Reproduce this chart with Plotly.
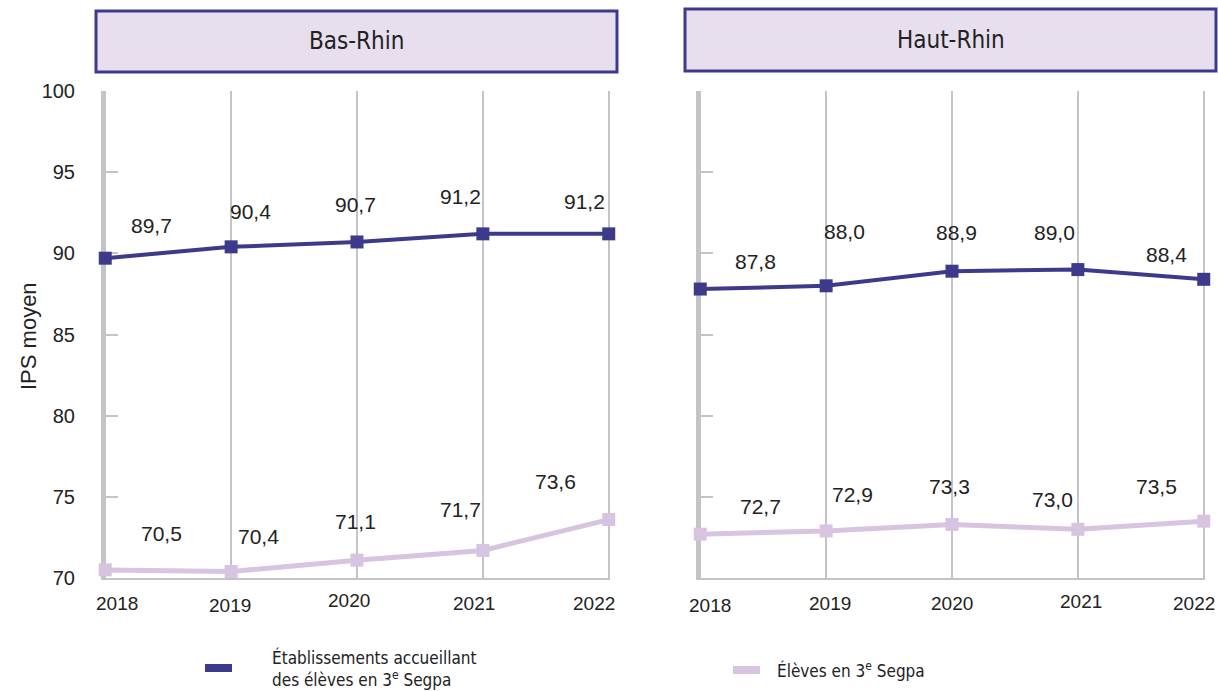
import plotly.graph_objects as go

# données IPS moyen
annees = [2018, 2019, 2020, 2021, 2022]
bas_rhin_etab = [89.7, 90.4, 90.7, 91.2, 91.2]
bas_rhin_eleves = [70.5, 70.4, 71.1, 71.7, 73.6]
haut_rhin_etab = [87.8, 88.0, 88.9, 89.0, 88.4]
haut_rhin_eleves = [72.7, 72.9, 73.3, 73.0, 73.5]
y_ticks = [70, 75, 80, 85, 90, 95, 100]

nom_etab = "Établissements accueillant<br>des élèves en 3<sup>e</sup> Segpa"
nom_eleves = "Élèves en 3<sup>e</sup> Segpa"

# décalages des étiquettes (px) : (dx, dy vers le haut)
off_br_etab = [(46, 33), (19, 35), (-2, 37), (-22, 37), (-24, 32)]
off_br_eleves = [(56, 36), (27, 35), (-2, 39), (-22, 41), (-53, 38)]
off_hr_etab = [(55, 28), (18, 54), (4, 39), (-23, 37), (-37, 25)]
off_hr_eleves = [(60, 28), (26, 36), (-3, 38), (-25, 30), (-47, 35)]
# décalages des années sous l'axe
off_br_annees = [(12, -25), (-1, -27), (-8, -22), (-9, -25), (-15, -25)]
off_hr_annees = [(10, -27), (4, -25), (0, -25), (3, -23), (-10, -25)]

C_DARK = '#3d3a8c'
C_LIGHT = '#d6c4e0'
C_GRID = '#c3c3c8'
C_TEXT = '#222222'
FONT = 'Liberation Sans, Arial, sans-serif'
FONT_NARROW = 'Liberation Sans Narrow, DejaVu Sans Condensed, Roboto, sans-serif'

W, H = 1218, 691
def px(x): return x / W
def py(y): return 1 - y / H

fig = go.Figure()

panels = [
    ('x', 'y', bas_rhin_etab, bas_rhin_eleves, off_br_etab, off_br_eleves, off_br_annees),
    ('x2', 'y2', haut_rhin_etab, haut_rhin_eleves, off_hr_etab, off_hr_eleves, off_hr_annees),
]

annotations = []
for xa, ya, etab, eleves, off_e, off_l, off_a in panels:
    for vals, col, lw, offs in [(eleves, C_LIGHT, 5, off_l), (etab, C_DARK, 4, off_e)]:
        fig.add_trace(go.Scatter(x=annees, y=vals, xaxis=xa, yaxis=ya,
                                 mode='lines+markers',
                                 line=dict(color=col, width=lw),
                                 marker=dict(symbol='square', size=13, color=col),
                                 cliponaxis=False, showlegend=False, hoverinfo='skip'))
        for a, v, (dx, dy) in zip(annees, vals, offs):
            annotations.append(dict(x=a, y=v, xref=xa, yref=ya, showarrow=False,
                                    text=f"{v:.1f}".replace('.', ','),
                                    xshift=dx, yshift=dy,
                                    font=dict(size=21, color=C_TEXT, family=FONT)))
    # années (étiquettes de l'axe x)
    for a, (dx, dy) in zip(annees, off_a):
        annotations.append(dict(x=a, y=70, xref=xa, yref=ya, showarrow=False,
                                text=str(a), xshift=dx, yshift=dy,
                                font=dict(size=19, color=C_TEXT, family=FONT)))

axis_x = dict(range=[2017.99, 2022.01], tickvals=annees, showgrid=True, gridcolor=C_GRID,
              gridwidth=2, showline=True, linecolor=C_GRID, linewidth=2, ticks='',
              showticklabels=False, layer='below traces',
              zeroline=False, fixedrange=True, automargin=False)
axis_y = dict(range=[70, 100], tickvals=y_ticks, showgrid=False, showline=True,
              linecolor=C_GRID, linewidth=3, ticks='inside', ticklen=14, tickwidth=2,
              tickcolor=C_GRID, zeroline=False, fixedrange=True, automargin=False,
              layer='below traces', tickfont=dict(size=20, color=C_TEXT, family=FONT))

fig.update_layout(
    width=W, height=H, margin=dict(l=0, r=0, t=0, b=0),
    plot_bgcolor='white', paper_bgcolor='white',
    xaxis=dict(axis_x, domain=[px(104), px(610)], anchor='y'),
    yaxis=dict(axis_y, domain=[py(578), py(91)], anchor='x', ticklabelstandoff=22),
    xaxis2=dict(axis_x, domain=[px(699), px(1205)], anchor='y2'),
    yaxis2=dict(axis_y, domain=[py(578), py(91)], anchor='x2', showticklabels=False),
)

# bandeaux de titre
shapes = []
for x0, x1, y0, y1, titre in [(96, 617, 11, 72, 'Bas-Rhin'), (685, 1216, 9, 71, 'Haut-Rhin')]:
    shapes.append(dict(type='rect', xref='paper', yref='paper',
                       x0=px(x0), x1=px(x1), y0=py(y1), y1=py(y0),
                       fillcolor='#e8dfee', line=dict(color=C_DARK, width=3)))
    annotations.append(dict(x=px((x0 + x1) / 2), y=py((y0 + y1) / 2), xref='paper', yref='paper',
                            text=titre, showarrow=False, xanchor='center', yanchor='middle',
                            font=dict(size=24, color=C_TEXT, family=FONT_NARROW)))

# titre axe y
annotations.append(dict(x=px(28), y=py(336), xref='paper', yref='paper', text='IPS moyen',
                        textangle=-90, showarrow=False, xanchor='center', yanchor='middle',
                        font=dict(size=22, color=C_TEXT, family=FONT)))

# légende
for x0, x1, ym, col, txt, tx in [(205, 232, 668, C_DARK, nom_etab, 270),
                                 (733, 760, 670, C_LIGHT, nom_eleves, 775)]:
    shapes.append(dict(type='rect', xref='paper', yref='paper',
                       x0=px(x0), x1=px(x1), y0=py(ym + 4), y1=py(ym - 4),
                       fillcolor=col, line=dict(width=0)))
    annotations.append(dict(x=px(tx), y=py(ym), xref='paper', yref='paper', text=txt,
                            showarrow=False, xanchor='left', yanchor='middle', align='left',
                            font=dict(size=17, color=C_TEXT, family=FONT_NARROW)))

fig.update_layout(shapes=shapes, annotations=annotations)

fig.write_html("out.html", config={'displayModeBar': False},
               post_script="document.body.style.margin='0';")
